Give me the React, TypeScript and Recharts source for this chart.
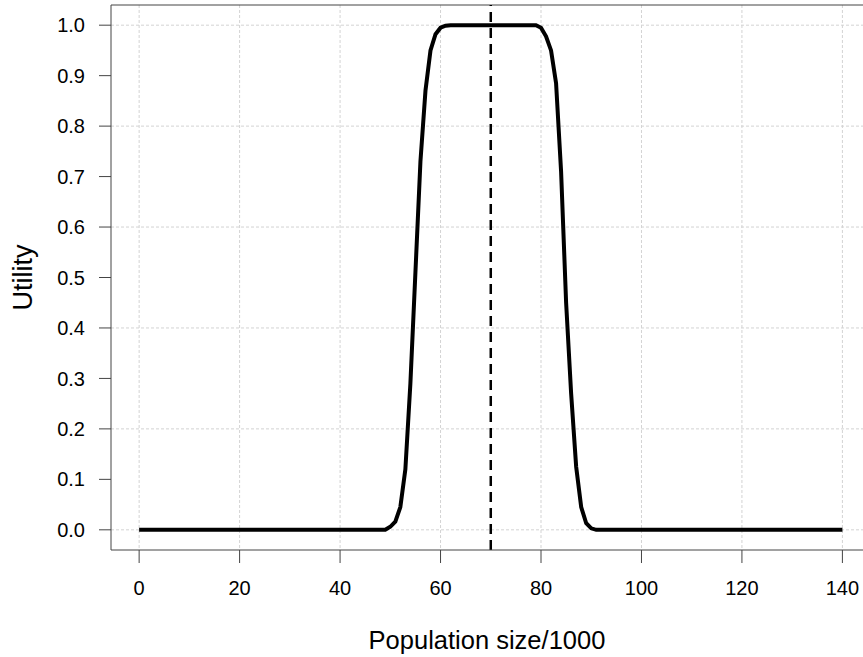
import {
  LineChart,
  Line,
  XAxis,
  YAxis,
  CartesianGrid,
  ReferenceLine,
} from "recharts";

// population size (thousands) and utility
const POP_SIZE = [
  0, 10, 20, 30, 40, 49, 50, 51, 52, 53, 54, 55, 56, 57, 58, 59, 60, 61, 62,
  70, 79, 80, 81, 82, 83, 84, 85, 86, 87, 88, 89, 90, 91, 100, 110, 120, 130,
  140,
];
const UTILITY = [
  0, 0, 0, 0, 0, 0, 0.006, 0.016, 0.045, 0.12, 0.29, 0.51, 0.73, 0.87, 0.95,
  0.982, 0.995, 0.999, 1, 1, 1, 0.995, 0.978, 0.95, 0.885, 0.71, 0.45, 0.27,
  0.125, 0.045, 0.013, 0.003, 0, 0, 0, 0, 0, 0,
];

const TARGET = 70;

const X_TICKS = [0, 20, 40, 60, 80, 100, 120, 140];
const Y_TICKS = [0, 0.1, 0.2, 0.3, 0.4, 0.5, 0.6, 0.7, 0.8, 0.9, 1.0];
const GRID_X = [0, 20, 40, 60, 80, 100, 120, 140];
const GRID_Y = [0, 0.2, 0.4, 0.6, 0.8, 1.0];

const X_DOMAIN: [number, number] = [-5.6, 144.1];
const Y_DOMAIN: [number, number] = [-0.04, 1.04];

const data = POP_SIZE.map((x, i) => ({ x, u: UTILITY[i] }));

const AXIS = "#444";
const tickStyle = { fontSize: 20, fill: "#000" };

export default function App() {
  return (
    <div
      style={{
        position: "absolute",
        left: 0,
        top: 0,
        width: 863,
        height: 657,
        background: "#fff",
        fontFamily: '"Liberation Sans", Arial, sans-serif',
      }}
    >
      <LineChart
        width={863}
        height={657}
        data={data}
        margin={{ top: 5, right: 0, bottom: 0, left: 0 }}
      >
        <CartesianGrid
          stroke="#d3d3d3"
          strokeDasharray="3 2"
          horizontalValues={GRID_Y}
          verticalValues={GRID_X}
        />
        <XAxis
          dataKey="x"
          type="number"
          domain={X_DOMAIN}
          allowDataOverflow
          ticks={X_TICKS}
          interval={0}
          height={107}
          stroke={AXIS}
          tickSize={13}
          tickMargin={18}
          tick={tickStyle}
          label={{
            value: "Population size/1000",
            position: "insideBottom",
            offset: 8,
            style: { fontSize: 25.5, fill: "#000" },
          }}
        />
        <YAxis
          type="number"
          domain={Y_DOMAIN}
          allowDataOverflow
          ticks={Y_TICKS}
          interval={0}
          width={111}
          stroke={AXIS}
          tickSize={12}
          tickMargin={14}
          tick={tickStyle}
          tickFormatter={(v: number) => v.toFixed(1)}
          label={{
            value: "Utility",
            angle: -90,
            position: "insideLeft",
            offset: 22,
            style: { fontSize: 27, fill: "#000", textAnchor: "middle" },
          }}
        />
        <ReferenceLine y={Y_DOMAIN[1]} stroke={AXIS} />
        <ReferenceLine
          x={TARGET}
          stroke="#000"
          strokeWidth={2.5}
          strokeDasharray="10 6"
        />
        <Line
          type="linear"
          dataKey="u"
          stroke="#000"
          strokeWidth={4}
          dot={false}
          activeDot={false}
          isAnimationActive={false}
        />
      </LineChart>
    </div>
  );
}
